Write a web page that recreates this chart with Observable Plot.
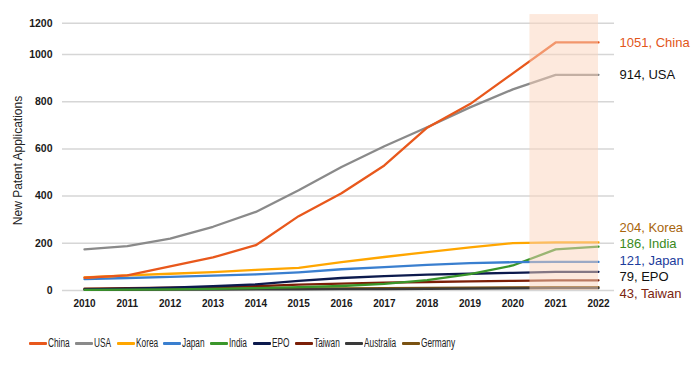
<!DOCTYPE html>
<html><head><meta charset="utf-8">
<script src="https://cdn.jsdelivr.net/npm/d3@7"></script>
<script src="https://cdn.jsdelivr.net/npm/@observablehq/plot@0.6"></script>
<style>
body{margin:0;background:#fff;font-family:"Liberation Sans",Arial,sans-serif;}
#chart svg{display:block;}
#legend{height:36px;width:700px;display:flex;align-items:center;gap:5.5px;padding-left:29px;box-sizing:border-box;
  font-family:"Liberation Sans",Arial,sans-serif;font-size:12px;color:#222;}
.item{display:flex;align-items:center;}
.sw{width:18px;height:3px;margin-right:1px;border-radius:1px;flex:none;}
.tw{overflow:visible;white-space:nowrap;}
.tx{display:inline-block;transform:scaleX(0.69);transform-origin:0 50%;}
</style></head><body><div id="chart"></div><div id="legend"></div>
<script>
// ---- data ----
const years = [2010, 2011, 2012, 2013, 2014, 2015, 2016, 2017, 2018, 2019, 2020, 2021, 2022];
const seriesNames = ["China", "USA", "Korea", "Japan", "India", "EPO", "Taiwan", "Australia", "Germany"];
const china     = [54, 64, 102, 140, 192, 315, 412, 530, 690, 790, 920, 1051, 1051];
const usa       = [174, 188, 220, 270, 333, 425, 523, 611, 692, 776, 852, 914, 914];
const korea     = [55, 64, 71, 78, 87, 96, 120, 142, 163, 183, 201, 204, 204];
const japan     = [48, 53, 58, 63, 68, 77, 90, 99, 109, 116, 120, 121, 121];
const india     = [3, 4, 5, 7, 10, 14, 19, 28, 44, 69, 106, 174, 186];
const epo       = [5, 8, 12, 18, 26, 41, 53, 61, 67, 71, 75, 79, 79];
const taiwan    = [8, 10, 12, 14, 18, 25, 29, 33, 36, 39, 41, 43, 43];
const australia = [3, 3, 4, 4, 5, 5, 6, 6, 7, 8, 9, 10, 10];
const germany   = [5, 6, 6, 7, 8, 9, 9, 10, 11, 12, 13, 14, 14];
const labelled  = ["China", "USA", "Korea", "India", "Japan", "EPO", "Taiwan"];
const yTicks    = [0, 200, 400, 600, 800, 1000, 1200];
const forecastStart = 2020.4, forecastEnd = 2022;

// ---- styles ----
const lineColors  = ["#e8581c", "#8a8a8a", "#ffa600", "#3a7fcf", "#3a962a", "#0c1a4d", "#7b1f07", "#3a3a3a", "#7a5212"];
const labelColors = {China: "#e2561a", USA: "#111111", Korea: "#a8650c", India: "#3a8a1c", Japan: "#1c3c9c", EPO: "#111111", Taiwan: "#7a2410"};

const valuesByName = {China: china, USA: usa, Korea: korea, Japan: japan, India: india, EPO: epo, Taiwan: taiwan, Australia: australia, Germany: germany};
const rows = seriesNames.flatMap(name => years.map((year, i) => ({series: name, year, value: valuesByName[name][i]})));

// end labels with simple vertical de-overlap (in data units)
const gap = 70;
const items = labelled.map(name => ({name, value: valuesByName[name][years.length - 1]}))
  .sort((a, b) => b.value - a.value);
let groups = items.map(d => ({members: [d], center: d.value}));
let merged = true;
while (merged) {
  merged = false;
  for (let i = 0; i < groups.length - 1; i++) {
    const a = groups[i], b = groups[i + 1];
    const aBottom = a.center - (a.members.length - 1) * gap / 2;
    const bTop = b.center + (b.members.length - 1) * gap / 2;
    if (aBottom - bTop < gap) {
      const members = a.members.concat(b.members);
      groups.splice(i, 2, {members, center: d3.mean(members, d => d.value)});
      merged = true; break;
    }
  }
}
groups.forEach(g => g.members.forEach((d, j) => { d.ly = g.center + ((g.members.length - 1) / 2 - j) * gap; }));

// the top band of the value axis (above the last data) is drawn compressed, as in the source chart
const compressFrom = 1060, compressK = 0.52;
const yTransform = v => v <= compressFrom ? v : compressFrom + (v - compressFrom) * compressK;

const chart = Plot.plot({
  width: 700, height: 325,
  marginLeft: 62, marginRight: 86, marginTop: 30, marginBottom: 35,
  style: {fontFamily: "'Liberation Sans', Arial, sans-serif", background: "white", overflow: "visible"},
  x: {domain: [years[0], years[years.length - 1]], range: [84, 598]},
  y: {domain: [0, 1000], range: [290, 54], transform: yTransform},
  color: {domain: seriesNames, range: lineColors},
  marks: [
    Plot.gridY(yTicks, {stroke: "#d6d6d6", strokeOpacity: 1, strokeWidth: 1.5}),
    Plot.axisY(yTicks, {tickSize: 0, tickPadding: 10, fontWeight: "bold", fontSize: 10.5, fill: "#1a1a1a", tickFormat: d3.format("d"), label: null}),
    Plot.axisX(years, {tickSize: 0, tickPadding: 9, fontWeight: "bold", fontSize: 10, fill: "#1a1a1a", tickFormat: d3.format("d"), label: null}),
    Plot.line(rows.slice().reverse(), {x: "year", y: "value", z: "series", stroke: "series", strokeWidth: 2.3}),
    Plot.rect([0], {x1: forecastStart, x2: forecastEnd, y1: 0, y2: 1270, fill: "#fbd3bb", fillOpacity: 0.5}),
    Plot.text(["New Patent Applications"], {frameAnchor: "left", textAnchor: "middle", dx: -44, rotate: -90, fontSize: 12, fill: "#222"}),
    ...items.map(d => Plot.text([d], {x: forecastEnd, y: "ly", dx: 21, text: d => `${d.value}, ${d.name}`,
      textAnchor: "start", fontSize: 13, fill: labelColors[d.name]}))
  ]
});
document.getElementById("chart").appendChild(chart);

const legend = document.getElementById("legend");
seriesNames.forEach((name, i) => {
  const it = document.createElement("div"); it.className = "item";
  const sw = document.createElement("div"); sw.className = "sw"; sw.style.background = lineColors[i];
  const tw = document.createElement("div"); tw.className = "tw";
  const tx = document.createElement("span"); tx.className = "tx"; tx.textContent = name;
  tw.appendChild(tx); it.appendChild(sw); it.appendChild(tw); legend.appendChild(it);
  tw.style.width = tx.getBoundingClientRect().width + "px";
});
</script></body></html>
